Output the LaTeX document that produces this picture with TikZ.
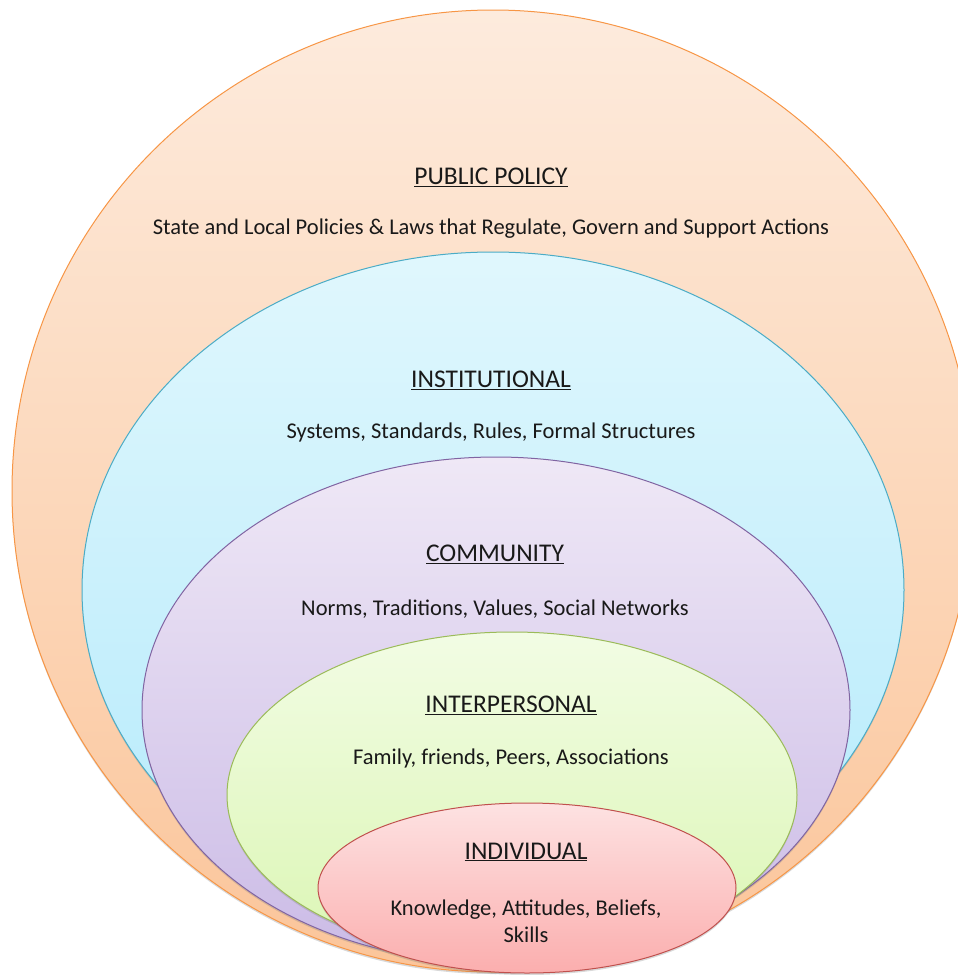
\documentclass[tikz,border=0pt]{standalone}
\usepackage{fontspec}
\setmainfont{Carlito}
\usetikzlibrary{shapes.geometric,shadows}

\definecolor{policyTop}{HTML}{FDEBDD}
\definecolor{policyBot}{HTML}{FBC59A}
\definecolor{policyLine}{HTML}{F79646}
\definecolor{instTop}{HTML}{E0F7FD}
\definecolor{instBot}{HTML}{B4EAFB}
\definecolor{instLine}{HTML}{4BACC6}
\definecolor{commTop}{HTML}{EFE8F6}
\definecolor{commBot}{HTML}{CBBBE6}
\definecolor{commLine}{HTML}{8064A2}
\definecolor{interTop}{HTML}{F2FCE4}
\definecolor{interBot}{HTML}{DBF6B4}
\definecolor{interLine}{HTML}{9BBB59}
\definecolor{indivTop}{HTML}{FDE2E2}
\definecolor{indivBot}{HTML}{FBAEAE}
\definecolor{indivLine}{HTML}{C0504D}

\begin{document}
\begin{tikzpicture}[x=1pt,y=-1pt,
    layer/.style={ellipse,draw,line width=1pt,inner sep=0pt,
      drop shadow={shadow xshift=0pt,shadow yshift=-2pt,opacity=0.3}},
    heading/.style={font=\fontsize{25.5}{28}\selectfont,text=black!90},
    detail/.style={font=\fontsize{22.5}{27}\selectfont,text=black!90,align=center}]
        \useasboundingbox (0,0) rectangle (958,975);
        % the five levels, outermost first
        \node[layer,draw=policyLine,top color=policyTop,bottom color=policyBot,
          minimum width=962pt,minimum height=962pt] (policy) at (493,491) {};
        \node[layer,draw=instLine,top color=instTop,bottom color=instBot,
          minimum width=822pt,minimum height=676pt] (inst) at (493,590) {};
        \node[layer,draw=commLine,top color=commTop,bottom color=commBot,
          minimum width=708pt,minimum height=506pt] (comm) at (496,710) {};
        \node[layer,draw=interLine,top color=interTop,bottom color=interBot,
          minimum width=570pt,minimum height=326pt] (inter) at (512,795) {};
        \node[layer,draw=indivLine,top color=indivTop,bottom color=indivBot,
          minimum width=418pt,minimum height=170pt] (indiv) at (527,888) {};
        % labels
        \node[heading] (policyhead) at (491,177) {\underline{PUBLIC POLICY}};
        \node[detail] (policytext) at (491,229)
          {State and Local Policies \& Laws that Regulate, Govern and Support Actions};
        \node[heading] (insthead) at (491,380) {\underline{INSTITUTIONAL}};
        \node[detail] (insttext) at (491,432) {Systems, Standards, Rules, Formal Structures};
        \node[heading] (commhead) at (495,554) {\underline{COMMUNITY}};
        \node[detail] (commtext) at (495,609) {Norms, Traditions, Values, Social Networks};
        \node[heading] (interhead) at (511,705) {\underline{INTERPERSONAL}};
        \node[detail] (intertext) at (511,758) {Family, friends, Peers, Associations};
        \node[heading] (indivhead) at (526,852) {\underline{INDIVIDUAL}};
        \node[detail] (indivtext) at (526,921) {Knowledge, Attitudes, Beliefs,\\Skills};
\end{tikzpicture}
\end{document}
